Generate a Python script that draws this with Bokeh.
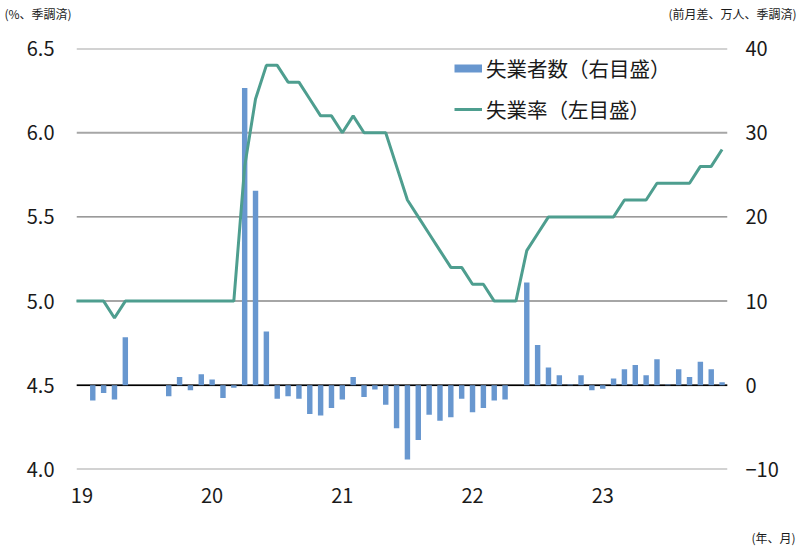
from bokeh.plotting import figure
from bokeh.models import (Range1d, LinearAxis, FixedTicker, Span, Label, Legend,
                          LegendItem, NumeralTickFormatter)
from bokeh.embed import file_html
from bokeh.resources import INLINE

# ---------------- data ----------------
YEAR_LABELS = ["19", "20", "21", "22", "23"]
YEAR_START_INDEX = [0, 12, 24, 36, 48]

# month index 0 = Jan 2019 ... 59 = Dec 2023
MONTH_INDEX = list(range(60))
# change in unemployed persons (10k persons, m/m, s.a.) - right axis
UNEMPLOYED_CHANGE = [
    0.0, -1.8, -0.9, -1.7, 5.7, 0.0, 0.0, 0.0, -1.3, 1.0, -0.6, 1.3,
    0.7, -1.5, -0.3, 35.3, 23.1, 6.4, -1.6, -1.3, -1.6, -3.4, -3.6, -2.7,
    -1.7, 1.0, -1.4, -0.5, -2.3, -5.1, -8.8, -6.5, -3.5, -4.2, -3.8, -1.6,
    -3.2, -2.7, -1.8, -1.7, 0.0, 12.2, 4.8, 2.1, 1.2, 0.1, 1.2, -0.6,
    -0.4, 0.8, 1.9, 2.4, 1.2, 3.1, 0.1, 1.9, 1.0, 2.8, 1.9, 0.35,
]
# unemployment rate (%, s.a.) - left axis; series begins Dec 2018 (index -1)
RATE_MONTH_INDEX = list(range(-1, 60))
RATE = [
    5.0,
    5.0, 5.0, 5.0, 4.9, 5.0, 5.0, 5.0, 5.0, 5.0, 5.0, 5.0, 5.0,
    5.0, 5.0, 5.0, 5.8, 6.2, 6.4, 6.4, 6.3, 6.3, 6.2, 6.1, 6.1,
    6.0, 6.1, 6.0, 6.0, 6.0, 5.8, 5.6, 5.5, 5.4, 5.3, 5.2, 5.2,
    5.1, 5.1, 5.0, 5.0, 5.0, 5.3, 5.4, 5.5, 5.5, 5.5, 5.5, 5.5,
    5.5, 5.5, 5.6, 5.6, 5.6, 5.7, 5.7, 5.7, 5.7, 5.8, 5.8, 5.9,
]
LEFT_TICKS = [4.0, 4.5, 5.0, 5.5, 6.0, 6.5]
RIGHT_TICKS = [-10, 0, 10, 20, 30, 40]

BAR_LABEL = "失業者数（右目盛）"
LINE_LABEL = "失業率（左目盛）"
LEFT_TITLE = "(%、季調済)"
RIGHT_TITLE = "(前月差、万人、季調済)"
X_TITLE = "(年、月)"

# ---------------- style ----------------
FONT = "Noto Sans CJK JP"
BAR_COLOR = "#6897cf"
LINE_COLOR = "#4e9e8f"
GRID_COLOR = "#a6a6a6"
TEXT_COLOR = "#1a1a1a"

p = figure(width=800, height=550, output_backend="svg", toolbar_location=None,
           x_range=Range1d(-0.5, 59.5), y_range=Range1d(LEFT_TICKS[0], LEFT_TICKS[-1]),
           min_border_left=76, min_border_right=73, min_border_top=48,
           min_border_bottom=81)
p.outline_line_color = None
p.xgrid.visible = False
p.ygrid.visible = False
p.background_fill_color = "white"

# left axis
la = p.yaxis[0]
la.ticker = FixedTicker(ticks=LEFT_TICKS)
la.formatter = NumeralTickFormatter(format="0.0")
# right axis
p.extra_y_ranges = {"right": Range1d(RIGHT_TICKS[0], RIGHT_TICKS[-1])}
ra = LinearAxis(y_range_name="right", ticker=FixedTicker(ticks=RIGHT_TICKS))
p.add_layout(ra, "right")
# x axis
xa = p.xaxis[0]
xa.ticker = FixedTicker(ticks=YEAR_START_INDEX)
xa.major_label_overrides = {i: s for i, s in zip(YEAR_START_INDEX, YEAR_LABELS)}

for ax, standoff in ((la, 22), (ra, 18), (xa, 18)):
    ax.axis_line_color = None
    ax.major_tick_line_color = None
    ax.minor_tick_line_color = None
    ax.major_tick_out = 0
    ax.major_tick_in = 0
    ax.major_label_standoff = standoff
    ax.major_label_text_font = FONT
    ax.major_label_text_font_size = "20px"
    ax.major_label_text_color = TEXT_COLOR

# gridlines
for v in LEFT_TICKS:
    if v == 5.5:
        col, w = "#5a5a5a", 1
    else:
        col, w = GRID_COLOR, 2
    p.add_layout(Span(location=v, dimension="width", line_color=col,
                      line_width=w, level="underlay"))
p.add_layout(Span(location=0, dimension="width", y_range_name="right",
                  line_color="black", line_width=1.5, level="underlay"))

# bars
bars = p.vbar(x=MONTH_INDEX, top=UNEMPLOYED_CHANGE, bottom=0, width=0.5,
              fill_color=BAR_COLOR, line_color=None, y_range_name="right")
# line
rate_line = p.line(x=RATE_MONTH_INDEX, y=RATE, line_color=LINE_COLOR, line_width=3)

# legend proxy for bars (thick short bar sample); draws nothing in the plot
proxy = p.line(x=MONTH_INDEX[:1], y=[float("nan")], line_color=BAR_COLOR, line_width=8)

legend = Legend(items=[LegendItem(label=BAR_LABEL, renderers=[proxy]),
                       LegendItem(label=LINE_LABEL, renderers=[rate_line])],
                location=(378, 345), orientation="vertical",
                glyph_width=28, glyph_height=26, label_height=26,
                label_standoff=4, spacing=11, padding=4, margin=0,
                label_text_font=FONT, label_text_font_size="20.5px",
                label_text_color=TEXT_COLOR,
                background_fill_alpha=0, border_line_color=None)
p.add_layout(legend)

# titles in side panels (screen units relative to their panel)
lt = Label(x=-72, y=35, x_units="screen", y_units="screen", text=LEFT_TITLE,
           text_align="left", text_baseline="middle",
           text_font=FONT, text_font_size="12px", text_color=TEXT_COLOR)
rt = Label(x=651 + 69, y=35 - 17, x_units="screen", y_units="screen", text=RIGHT_TITLE,
           text_align="right", text_baseline="middle",
           text_font=FONT, text_font_size="12px", text_color=TEXT_COLOR)
bt = Label(x=651 + 68, y=-15, x_units="screen", y_units="screen", text=X_TITLE,
           text_align="right", text_baseline="middle",
           text_font=FONT, text_font_size="12px", text_color=TEXT_COLOR)
p.add_layout(lt, "above")
p.add_layout(rt, "above")
p.add_layout(bt, "below")

open("out.html", "w").write(file_html(p, INLINE))
